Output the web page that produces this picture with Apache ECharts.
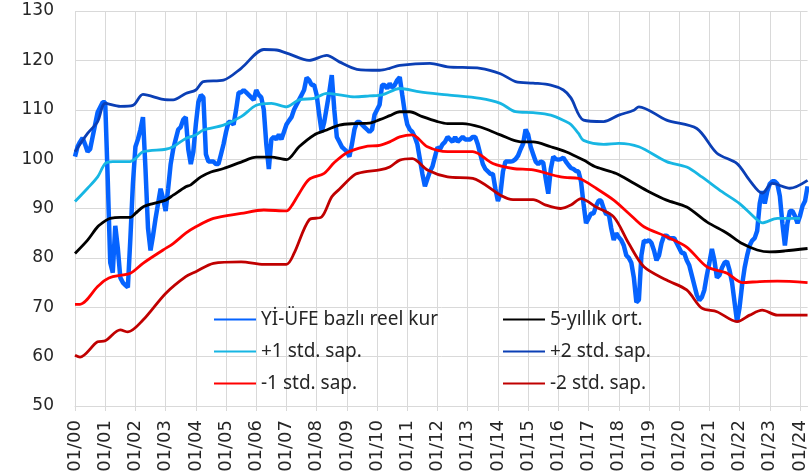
<!DOCTYPE html>
<html>
<head>
<meta charset="utf-8">
<script src="https://cdn.jsdelivr.net/npm/echarts@6/dist/echarts.min.js"></script>
<style>
  html, body { margin: 0; padding: 0; background: #fff; }
  #main { width: 809px; height: 476px; }
</style>
</head>
<body>
<div id="main"></div>
<script>
// aylar: 01/00 ... 04/24
var months = [];
for (var y = 2000; y <= 2024; y++) {
    for (var mo = 1; mo <= 12; mo++) {
        if (y === 2024 && mo > 4) break;
        months.push((mo < 10 ? '0' + mo : '' + mo) + '/' + String(y).slice(2));
    }
}

var seriesNames = ['Yİ-ÜFE bazlı reel kur', '5-yıllık ort.', '+1 std. sap.', '+2 std. sap.', '-1 std. sap.', '-2 std. sap.'];

// YI-UFE bazli reel kur, aylik
var reelKur = [
    100.5, 102.5, 103.5, 104.3, 103, 101.5, 102, 104.5, 107, 109.5, 110.5, 111.5,
    111.5, 96, 79, 77, 86.5, 82, 76, 75, 74.5, 74, 84, 95,
    102.5, 104, 106, 108.5, 98, 86, 81.5, 84.5, 88, 91, 94, 92,
    89.5, 94, 99, 102, 104, 106, 106.5, 108, 108.5, 102, 99, 101.5,
    107, 111.5, 113, 112.5, 101, 99.5, 99.5, 99.5, 99, 99, 101, 103,
    105.5, 107.5, 107.5, 107, 110, 113.5, 113.5, 114, 113.5, 113, 112.5, 112,
    114, 113, 112.5, 110, 103, 98, 104, 104.5, 104, 105, 104, 105.5,
    107, 107.8, 108.5, 110, 111, 112, 113, 114, 116.5, 116, 115, 115,
    113, 109, 105.5, 107.5, 110.5, 113.5, 117, 110, 104.5, 103.5, 102.5, 102,
    101.5, 100.5, 103, 106, 107.5, 107.5, 107, 106.5, 106, 105.5, 106, 109,
    110, 111, 115, 115, 114.3, 115.3, 114.5, 115, 116, 116.6, 113, 109.5,
    107, 106, 105.5, 104.5, 103, 100, 97, 94.5, 96, 97.5, 98.5, 100.5,
    102.4, 102, 103, 103.5, 104.5, 104, 103.5, 104.5, 103.5, 104, 104.5, 104,
    104, 104, 104.5, 104.5, 103, 101, 99, 98, 97.5, 97, 97, 94,
    91.5, 93, 97.5, 99.5, 99.5, 99.5, 99.6, 100, 100.7, 102, 103.1, 106,
    105, 102.5, 101, 99.5, 99, 99.5, 99.3, 96, 93, 98, 100.5, 100,
    99.9, 100, 100.3, 99.5, 98.8, 98.2, 98, 97.6, 97.5, 95.5, 91, 87,
    88, 89, 89, 90.5, 91.6, 91.6, 90, 88.8, 89, 86, 83.6, 85,
    84.2, 83.6, 82.5, 80.5, 80, 79, 76, 71, 71.5, 80.5, 83.5, 83.3,
    83.6, 83, 81.5, 79.5, 80.5, 83, 84.5, 84.5, 84, 84, 84, 83,
    82, 81, 81, 79.5, 78.5, 76.5, 74.5, 72.5, 71.4, 72, 73.5, 76.5,
    79, 81.8, 79.5, 76, 76.5, 78, 79, 79.3, 77.5, 75, 71, 67,
    70, 74.5, 78, 80.5, 82.5, 83.5, 84, 85.5, 91, 93.5, 91, 93.5,
    95, 95.5, 95.5, 95, 92.5, 87, 82.5, 87, 89.5, 89.5, 88.5, 87,
    88.5, 90.5, 91.5, 94.5
];

// [ay sirasi, deger]
var ort5 = [[0, 80.9], [5, 83.6], [9, 86.3], [12, 87.5], [14, 88], [18, 88.2], [22, 88.2], [24, 89], [27, 90.3], [31, 91], [36, 91.7], [39, 92.7], [44, 94.4], [46, 94.8], [50, 96.4], [54, 97.4], [59, 98.1], [66, 99.4], [72, 100.4], [78, 100.4], [84, 99.9], [89, 102.5], [95, 104.9], [100, 105.9], [105, 106.9], [111, 107.2], [117, 107.3], [121, 108], [125, 108.8], [129, 109.6], [133, 109.6], [138, 108.6], [144, 107.6], [148, 107.2], [154, 107.2], [161, 106.5], [169, 104.9], [177, 103.5], [182, 103.5], [189, 102.5], [195, 101.5], [202, 99.8], [207, 98.4], [215, 97.1], [222, 95.1], [228, 93.4], [235, 91.7], [243, 90.3], [251, 87.3], [259, 85], [265, 82.9], [271, 81.6], [276, 81.2], [282, 81.4], [291, 81.9]];

var arti1 = [[0, 91.4], [5, 94.1], [9, 96.4], [12, 99.1], [15, 99.5], [22, 99.5], [24, 100.1], [27, 101.5], [36, 102], [39, 102.5], [44, 104.2], [48, 104.9], [51, 105.9], [59, 106.9], [66, 108.6], [72, 110.9], [78, 111.3], [84, 110.6], [89, 112], [95, 112.3], [100, 113.3], [105, 113], [111, 112.6], [117, 112.8], [122, 113], [129, 114.3], [137, 113.6], [148, 113], [161, 112.3], [169, 111.3], [175, 109.6], [182, 109.4], [189, 108.9], [195, 107.6], [197, 107], [200, 105.2], [202, 103.8], [210, 103], [216, 103.2], [224, 102.5], [235, 99.5], [243, 98.4], [249, 96.4], [257, 93.4], [264, 91], [271, 87.7], [273, 87.1], [279, 88], [284, 88], [288, 88]];

var arti2 = [[0, 101.5], [5, 105.2], [9, 107.6], [12, 111.3], [18, 110.7], [23, 110.9], [27, 113.1], [35, 112.1], [39, 112], [44, 113.3], [48, 114], [51, 115.7], [59, 116], [66, 118.4], [75, 122.2], [80, 122.1], [85, 121.3], [93, 120], [100, 121], [105, 119.7], [112, 118.2], [121, 118], [125, 118.4], [129, 119], [141, 119.4], [148, 118.7], [161, 118.4], [169, 117.3], [175, 115.7], [182, 115.4], [189, 115], [194, 114], [197, 112.4], [202, 107.9], [210, 107.6], [216, 108.9], [222, 109.9], [224, 110.6], [235, 107.9], [247, 106.2], [255, 101.2], [263, 99.1], [268, 95.7], [273, 93.1], [277, 95.1], [284, 94.1], [291, 95.7]];

var eksi1 = [[0, 70.6], [2, 70.6], [9, 74.2], [12, 75.5], [15, 76.2], [22, 76.9], [27, 78.9], [35, 81.6], [39, 82.9], [44, 85], [48, 86.3], [55, 88], [66, 89], [75, 89.7], [84, 89.5], [86, 90.5], [89, 93], [93, 95.9], [99, 97.1], [103, 99.3], [108, 101.3], [115, 102.5], [121, 102.8], [125, 103.5], [129, 104.5], [134, 104.9], [140, 102.5], [148, 101.5], [158, 101.5], [166, 99.1], [174, 98.1], [182, 97.8], [193, 96.4], [200, 96.1], [202, 95.7], [207, 94.1], [214, 91.7], [220, 89], [226, 86.3], [235, 84.3], [243, 82.2], [251, 78.2], [259, 76.9], [265, 75], [272, 75.2], [279, 75.3], [291, 75]];

var eksi2 = [[0, 60.3], [2, 59.9], [9, 63], [12, 63.2], [18, 65.4], [21, 65], [27, 67.4], [36, 72.8], [44, 76.2], [48, 77.2], [55, 78.9], [66, 79.2], [75, 78.7], [84, 78.7], [87, 80.9], [93, 87.7], [98, 88.3], [102, 92.4], [105, 93.9], [111, 96.8], [115, 97.4], [121, 97.8], [125, 98.4], [129, 99.8], [134, 100.1], [140, 97.8], [148, 96.4], [158, 96.1], [169, 92.7], [174, 91.8], [182, 91.8], [187, 90.7], [193, 90], [197, 90.7], [201, 92], [207, 90.3], [214, 88.3], [220, 82.9], [226, 78.2], [235, 75.5], [243, 73.5], [249, 69.8], [255, 69.1], [263, 67.1], [268, 68.4], [273, 69.4], [279, 68.4], [291, 68.4]];

var myChart = echarts.init(document.getElementById('main'));

var gridColor = '#d9d9d9';
var legendText = {
    color: '#262626',
    fontFamily: 'Noto Sans',
    fontSize: 19
};

function bandLine(name, data, color, width) {
    return {
        name: name,
        type: 'line',
        data: data,
        symbol: 'none',
        smooth: 0.3,
        lineStyle: { color: color, width: width },
        itemStyle: { color: color },
        z: 3
    };
}

function legendBlock(names, left) {
    return {
        data: names,
        orient: 'vertical',
        left: left,
        top: 310,
        padding: 0,
        itemWidth: 42,
        itemHeight: 14,
        itemGap: 13,
        itemStyle: { opacity: 0 }, // sadece cizgi, daire yok
        textStyle: legendText
    };
}

var option = {
    backgroundColor: '#fff',
    animation: false,
    grid: {
        left: 75,
        right: 1,
        top: 11,
        bottom: 70,
        containLabel: false
    },
    // iki sutunlu lejant
    legend: [
        legendBlock([seriesNames[0], seriesNames[2], seriesNames[4]], 213),
        legendBlock([seriesNames[1], seriesNames[3], seriesNames[5]], 502)
    ],
    xAxis: {
        type: 'category',
        boundaryGap: false,
        data: months,
        axisLine: { lineStyle: { color: gridColor } },
        axisTick: { interval: 11, length: 5, lineStyle: { color: gridColor } },
        splitLine: { show: true, interval: 11, lineStyle: { color: gridColor } },
        axisLabel: {
            interval: 11,
            rotate: 90,
            margin: 14,
            color: '#262626',
            fontFamily: 'DejaVu Sans',
            fontSize: 18
        }
    },
    yAxis: {
        type: 'value',
        min: 50,
        max: 130,
        interval: 10,
        axisLine: { show: false },
        axisTick: { show: false },
        splitLine: { lineStyle: { color: gridColor } },
        axisLabel: {
            margin: 21,
            color: '#262626',
            fontFamily: 'DejaVu Sans',
            fontSize: 17
        }
    },
    series: [
        {
            name: seriesNames[0],
            type: 'line',
            data: reelKur,
            symbol: 'none',
            lineStyle: { color: '#0563ff', width: 4.5 },
            itemStyle: { color: '#0563ff' },
            z: 2
        },
        bandLine(seriesNames[1], ort5, '#000000', 2.8),
        bandLine(seriesNames[2], arti1, '#17b6e3', 2.8),
        bandLine(seriesNames[3], arti2, '#0b3fb5', 2.8),
        bandLine(seriesNames[4], eksi1, '#ff0000', 2.8),
        bandLine(seriesNames[5], eksi2, '#c00000', 2.8)
    ]
};

myChart.setOption(option);
window.onresize = myChart.resize;
</script>
</body>
</html>
